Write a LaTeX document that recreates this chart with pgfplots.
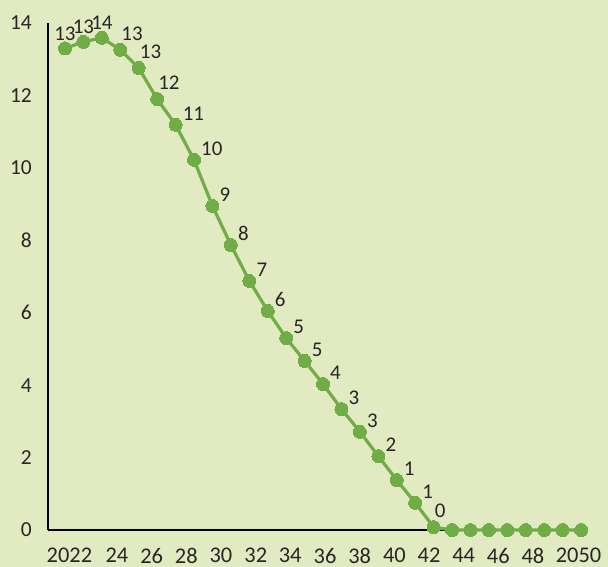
\documentclass[border=0pt]{standalone}
\usepackage{pgfplots}
\pgfplotsset{compat=1.18}
\usepackage{pgfplotstable}
\usepackage{fontspec}
\setmainfont{Carlito}
\definecolor{bg}{RGB}{226,234,193}
\definecolor{lg}{RGB}{112,173,71}

\pgfplotstableread{
year value
2022 13.30
2023 13.48
2024 13.59
2025 13.26
2026 12.76
2027 11.90
2028 11.19
2029 10.22
2030 8.95
2031 7.87
2032 6.88
2033 6.05
2034 5.30
2035 4.67
2036 4.03
2037 3.34
2038 2.71
2039 2.04
2040 1.38
2041 0.75
2042 0.08
2043 0
2044 0
2045 0
2046 0
2047 0
2048 0
2049 0
2050 0
}\datatable

\pgfplotstableread{
year value lbl
2022 13.30 13
2023 13.48 13
2024 13.59 14
}\lblA

\pgfplotstableread{
year value lbl
2025 13.26 13
2026 12.76 13
2027 11.90 12
2042 0.08 0
}\lblB

\pgfplotstableread{
year value lbl
2028 11.19 11
2029 10.22 10
2030 8.95 9
2031 7.87 8
2032 6.88 7
2033 6.05 6
2034 5.30 5
2035 4.67 5
2036 4.03 4
2037 3.34 3
2038 2.71 3
2039 2.04 2
2040 1.38 1
2041 0.75 1
}\lblC

\begin{document}
\begin{tikzpicture}
\fill[bg] (-48bp,-37bp) rectangle (560bp,530bp);
\begin{axis}[
  at={(0,0)}, anchor=south west,
  scale only axis,
  width=538.6bp, height=507bp,
  xmin=2021.078, xmax=2050.3, ymin=0, ymax=14,
  axis lines*=left,
  axis line style={black, line width=1.3bp},
  major tick length=0pt,
  xtick={2022.24,2024.82,2026.70,2028.58,2030.46,2032.35,2034.22,2036.11,2037.99,2039.87,2041.75,2043.63,2045.51,2047.39,2049.86},
  xticklabels={2022,24,26,28,30,32,34,36,38,40,42,44,46,48,2050},
  ytick={0,2,...,14},
  /pgf/number format/assume math mode=true,
  yticklabel style={font=\fontsize{21.5}{23}\selectfont, text=black!85, anchor=east, inner sep=0pt, xshift=-16bp},
  xticklabel style={font=\fontsize{22.5}{24}\selectfont, text=black!85, anchor=north, inner sep=0pt, yshift=-18bp},
  clip=false,
  nodes near coords style={font=\fontsize{21}{23}\selectfont, text=black!85, inner sep=0pt},
]
\addplot[color=lg, line width=3.2bp, mark=*, mark size=6.5bp, mark options={fill=lg, draw=lg, line width=0pt}] table[x=year, y=value] {\datatable};
\addplot[draw=none, mark=none, point meta=explicit symbolic, nodes near coords,
  nodes near coords style={anchor=south, yshift=8bp}] table[x=year, y=value, meta=lbl] {\lblA};
\addplot[draw=none, mark=none, point meta=explicit symbolic, nodes near coords,
  nodes near coords style={anchor=south west, xshift=1bp, yshift=9bp}] table[x=year, y=value, meta=lbl] {\lblB};
\addplot[draw=none, mark=none, point meta=explicit symbolic, nodes near coords,
  nodes near coords style={anchor=south west, xshift=7bp, yshift=4bp}] table[x=year, y=value, meta=lbl] {\lblC};
\end{axis}
\pgfresetboundingbox
\useasboundingbox (-48bp,-37bp) rectangle (560bp,530bp);
\end{tikzpicture}
\end{document}
